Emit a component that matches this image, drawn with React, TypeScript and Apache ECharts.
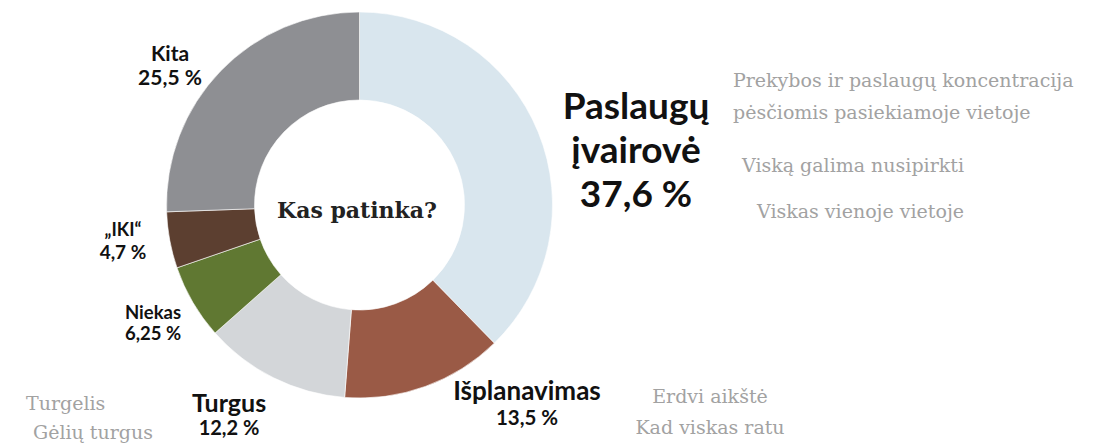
import React, { useEffect, useRef } from "react";
import * as echarts from "echarts";

const categories = ["Paslaugų\nįvairovė", "Išplanavimas", "Turgus", "Niekas", "„IKI“", "Kita"];
const values = [37.6, 13.5, 12.2, 6.25, 4.7, 25.5];
const colors = ["#d9e6ee", "#9a5a46", "#d3d6d9", "#607832", "#5c3f30", "#8e8f93"];
const centerTitle = "Kas patinka?";
const notesPaslaugos = ["Prekybos ir paslaugų koncentracija", "pėsčiomis pasiekiamoje vietoje", "Viską galima nusipirkti", "Viskas vienoje vietoje"];
const notesTurgus = ["Turgelis", "Gėlių turgus"];
const notesIsplanavimas = ["Erdvi aikštė", "Kad viskas ratu"];

// label placement / styles (layout, not data)
const labelPos = [
  { x: 636, y: 148, nameSize: 37, valSize: 37, lh: 44 },
  { x: 527, y: 403, nameSize: 26, valSize: 20.5, lh: 27 },
  { x: 229, y: 414, nameSize: 25, valSize: 20, lh: 25 },
  { x: 153, y: 322, nameSize: 18.5, valSize: 18.5, lh: 21 },
  { x: 123, y: 240, nameSize: 18, valSize: 19, lh: 22 },
  { x: 170, y: 64, nameSize: 21, valSize: 21, lh: 24 },
];

const fmt = (v: number) => String(v).replace(".", ",") + " %";

export default function App() {
  const ref = useRef<HTMLDivElement>(null);
  useEffect(() => {
    const chart = echarts.init(ref.current!, null, { renderer: "svg" });
    const gray = "#a2a2a2";
    const serif = "DejaVu Serif";
    const noteText = (text: string, x: number, y: number, align = "left") => ({
      type: "text",
      x,
      y,
      style: { text, fill: gray, font: `19px "${serif}"`, textAlign: align, textVerticalAlign: "middle" },
      silent: true,
    });
    const graphics: any[] = [];
    categories.forEach((c, i) => {
      const p = labelPos[i];
      const lines = c.split("\n");
      const total = lines.length + 1;
      const top = p.y - ((total - 1) * p.lh) / 2;
      lines.forEach((ln, j) => {
        graphics.push({
          type: "text",
          x: p.x,
          y: top + j * p.lh,
          style: { text: ln, fill: "#111", font: `bold ${p.nameSize}px Lato`, textAlign: "center", textVerticalAlign: "middle" },
        });
      });
      graphics.push({
        type: "text",
        x: p.x,
        y: top + lines.length * p.lh,
        style: { text: fmt(values[i]), fill: "#111", font: `bold ${p.valSize}px Lato`, textAlign: "center", textVerticalAlign: "middle" },
      });
    });
    graphics.push({
      type: "text",
      x: 357,
      y: 210,
      style: { text: centerTitle, fill: "#222", font: `bold 22px "${serif}"`, textAlign: "center", textVerticalAlign: "middle" },
    });
    graphics.push(noteText(notesPaslaugos[0], 733, 80));
    graphics.push(noteText(notesPaslaugos[1], 733, 112));
    graphics.push(noteText(notesPaslaugos[2], 742, 165));
    graphics.push(noteText(notesPaslaugos[3], 757, 211));
    graphics.push(noteText(notesTurgus[0], 26, 403));
    graphics.push(noteText(notesTurgus[1], 33, 432));
    graphics.push(noteText(notesIsplanavimas[0], 710, 396, "center"));
    graphics.push(noteText(notesIsplanavimas[1], 710, 427, "center"));

    chart.setOption({
      animation: false,
      series: [
        {
          type: "pie",
          center: [359.5, 205],
          radius: [105, 193],
          startAngle: 90,
          clockwise: true,
          label: { show: false },
          labelLine: { show: false },
          emphasis: { disabled: true },
          itemStyle: { borderColor: "#fff", borderWidth: 0.6 },
          data: categories.map((c, i) => ({ name: c, value: values[i], itemStyle: { color: colors[i] } })),
        },
      ],
      graphic: graphics,
    });
    return () => chart.dispose();
  }, []);
  return <div ref={ref} style={{ position: "absolute", left: 0, top: 0, width: 1105, height: 444 }} />;
}
